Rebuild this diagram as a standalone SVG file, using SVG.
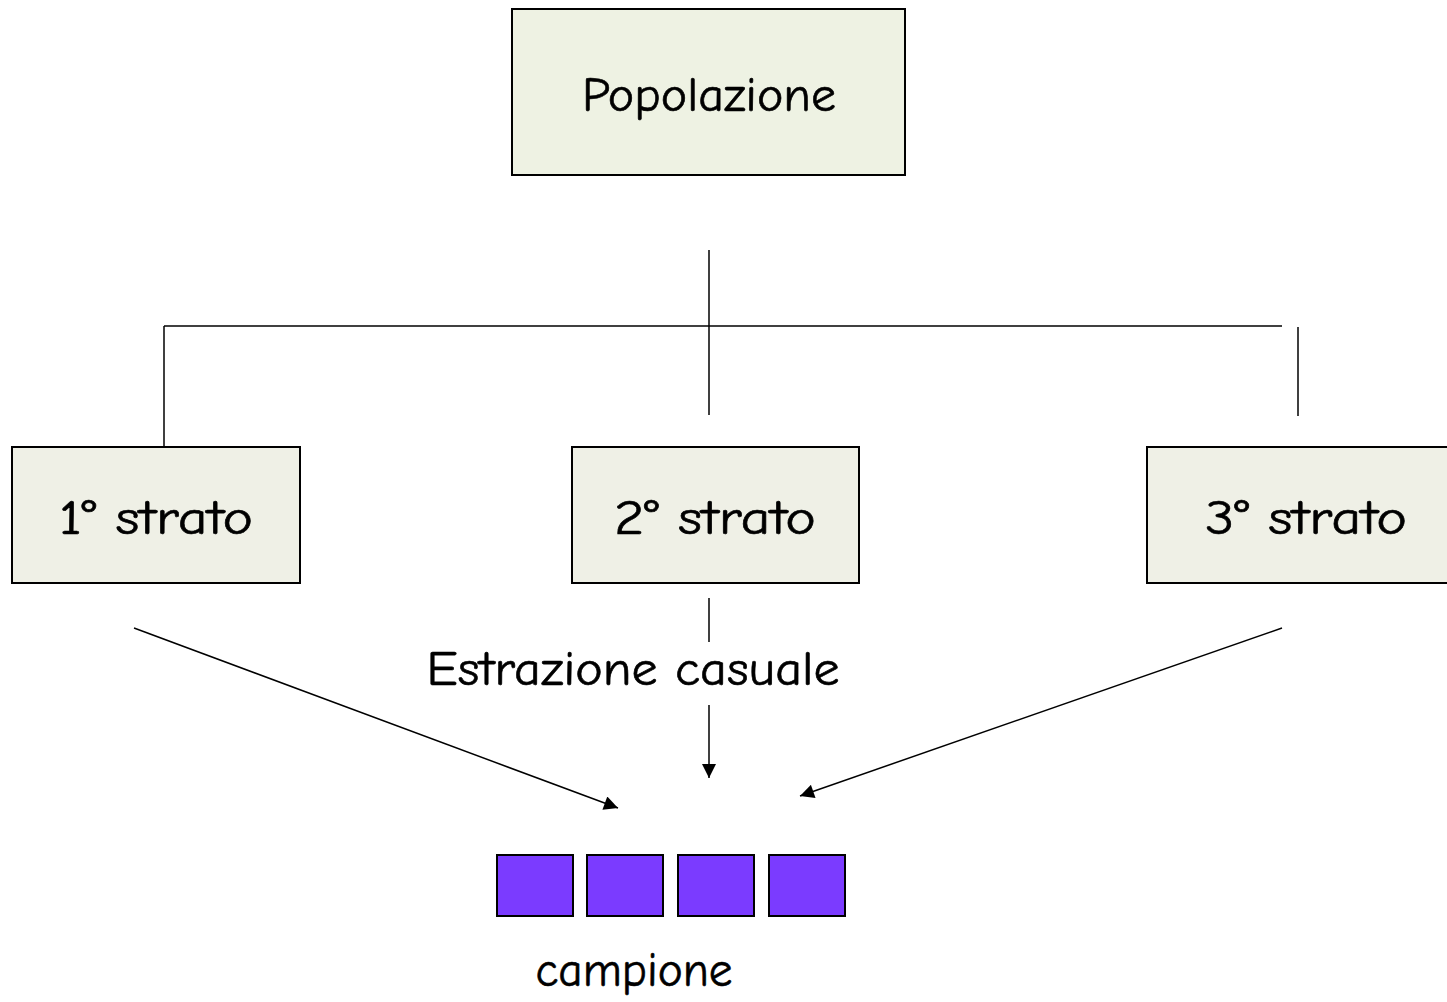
<svg xmlns="http://www.w3.org/2000/svg" width="1447" height="1002" viewBox="0 0 1447 1002">
<style>
.box{fill:#EFF0E6;stroke:#000;stroke-width:2}
.pop{fill:#EEF2E3;stroke:#000;stroke-width:2}
.sq{fill:#7B3BFF;stroke:#000;stroke-width:2}
.t{font-family:"Comic Sans MS","Comic Neue","DejaVu Sans",sans-serif;font-size:48px;fill:#000;stroke:#000;stroke-width:0.6;text-anchor:middle}
.ln{stroke:#000;stroke-width:1.5;fill:none}
</style>
<defs>
<marker id="ah" viewBox="0 0 10 10" refX="10" refY="5" markerWidth="16" markerHeight="14" markerUnits="userSpaceOnUse" orient="auto">
<path d="M0,0 L10,5 L0,10 z" fill="#000"/>
</marker>
</defs>
<rect width="1447" height="1002" fill="#fff"/>
<g id="connectors">
<line class="ln" x1="709" y1="250" x2="709" y2="415"/>
<line class="ln" x1="164" y1="326" x2="1282" y2="326"/>
<line class="ln" x1="164" y1="326" x2="164" y2="447"/>
<line class="ln" x1="1298" y1="327" x2="1298" y2="416"/>
<line class="ln" x1="709" y1="598" x2="709" y2="642"/>
<line class="ln" x1="709" y1="705" x2="709" y2="778" marker-end="url(#ah)"/>
<line class="ln" x1="134" y1="628" x2="618" y2="808" marker-end="url(#ah)"/>
<line class="ln" x1="1282" y1="628" x2="800" y2="796" marker-end="url(#ah)"/>
</g>
<g id="popolazione">
<rect class="pop" x="512" y="9" width="393" height="166"/>
<text class="t" x="709" y="111" textLength="254" lengthAdjust="spacingAndGlyphs">Popolazione</text>
</g>
<g id="strato1">
<rect class="box" x="12" y="447" width="288" height="136"/>
<text class="t" x="156" y="534" textLength="194" lengthAdjust="spacingAndGlyphs">1° strato</text>
</g>
<g id="strato2">
<rect class="box" x="572" y="447" width="287" height="136"/>
<text class="t" x="715" y="534" textLength="202" lengthAdjust="spacingAndGlyphs">2° strato</text>
</g>
<g id="strato3">
<rect class="box" x="1147" y="447" width="310" height="136"/>
<text class="t" x="1306" y="534" textLength="202" lengthAdjust="spacingAndGlyphs">3° strato</text>
</g>
<g id="estrazione">
<text class="t" x="633" y="685" textLength="413" lengthAdjust="spacingAndGlyphs">Estrazione casuale</text>
</g>
<g id="campione">
<rect class="sq" x="497" y="855" width="76" height="61"/>
<rect class="sq" x="587" y="855" width="76" height="61"/>
<rect class="sq" x="678" y="855" width="76" height="61"/>
<rect class="sq" x="769" y="855" width="76" height="61"/>
<text class="t" x="634" y="986" textLength="197" lengthAdjust="spacingAndGlyphs">campione</text>
</g>
</svg>
